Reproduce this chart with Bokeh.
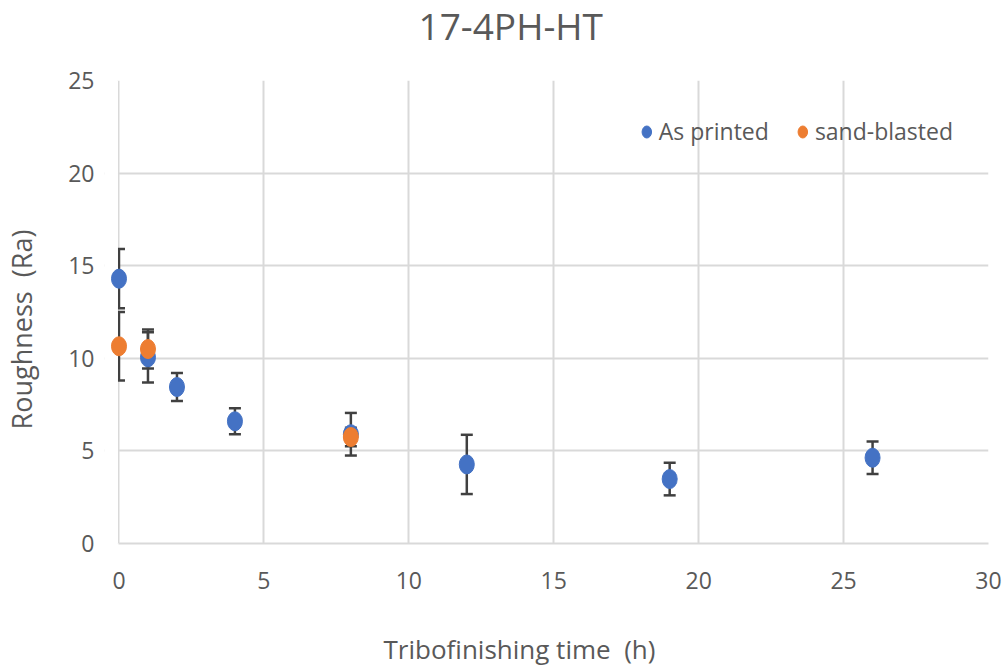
from bokeh.plotting import figure
from bokeh.models import (ColumnDataSource, Whisker, TeeHead, Legend, LegendItem,
                          FixedTicker, Range1d, BoxAnnotation)
from bokeh.embed import file_html
from bokeh.resources import INLINE

# Data
printed_time = [0, 1, 2, 4, 8, 12, 19, 26]
printed_ra = [14.3, 10.05, 8.45, 6.6, 5.9, 4.27, 3.48, 4.63]
printed_err = [1.6, 1.35, 0.75, 0.7, 1.15, 1.6, 0.88, 0.88]

blasted_time = [0, 1, 8]
blasted_ra = [10.65, 10.5, 5.75]
blasted_err = [1.85, 1.05, 0.5]

x_ticks = [0, 5, 10, 15, 20, 25, 30]
y_ticks = [0, 5, 10, 15, 20, 25]

title_text = "17-4PH-HT"
x_title = "Tribofinishing time\u00a0\u00a0(h)"
y_title = "Roughness\u00a0\u00a0(Ra)"

FONT = "Open Sans"
GRAY_TXT = "#595959"
GRID = "#d9d9d9"

FL, FB = 104, 543  # frame left / bottom on the canvas

p = figure(width=1003, height=671, output_backend="svg", toolbar_location=None,
           x_range=Range1d(-0.5, 30), y_range=Range1d(0, 25),
           min_border_left=FL, min_border_right=15, min_border_top=80,
           min_border_bottom=671 - FB)
p.outline_line_color = None
p.background_fill_color = "white"
p.border_fill_color = "white"

# title: an empty second line lifts the text towards the top edge
p.title.text = title_text + "\n"
p.title.align = "left"
p.title.offset = 314
p.title.vertical_align = "bottom"
p.title.standoff = -20
p.title.text_line_height = 0.766
p.title.text_font = FONT
p.title.text_font_size = "37px"
p.title.text_font_style = "normal"
p.title.text_color = GRAY_TXT

for ax in (p.xaxis[0], p.yaxis[0]):
    ax.major_tick_line_color = None
    ax.minor_tick_line_color = None
    ax.major_label_text_font = FONT
    ax.major_label_text_font_size = "23px"
    ax.major_label_text_color = GRAY_TXT
    ax.axis_label_text_font = FONT
    ax.axis_label_text_font_style = "normal"
    ax.axis_label_text_color = GRAY_TXT

p.xaxis.axis_label_text_font_size = "26px"
p.yaxis.axis_label_text_font_size = "27px"

p.yaxis.axis_line_color = None
p.xaxis.axis_line_color = GRID
p.xaxis.axis_line_width = 2
p.xaxis.bounds = (0, 30)

p.xaxis.ticker = FixedTicker(ticks=x_ticks)
p.yaxis.ticker = FixedTicker(ticks=y_ticks)
p.xaxis.major_label_standoff = 22
p.yaxis.major_label_standoff = 4
p.xaxis.axis_label = x_title + "\u00a0" * 8
p.yaxis.axis_label = y_title + "\u00a0" * 5
p.xaxis.axis_label_standoff = 39
p.yaxis.axis_label_standoff = 25

p.xgrid.ticker = FixedTicker(ticks=x_ticks)
p.ygrid.ticker = FixedTicker(ticks=y_ticks)
p.grid.grid_line_color = GRID
p.grid.grid_line_width = 2

src_p = ColumnDataSource(dict(x=printed_time, y=printed_ra,
                              lo=[a - b for a, b in zip(printed_ra, printed_err)],
                              hi=[a + b for a, b in zip(printed_ra, printed_err)]))
src_b = ColumnDataSource(dict(x=blasted_time, y=blasted_ra,
                              lo=[a - b for a, b in zip(blasted_ra, blasted_err)],
                              hi=[a + b for a, b in zip(blasted_ra, blasted_err)]))

ERR = "#404040"
for src in (src_p, src_b):
    w = Whisker(source=src, base="x", lower="lo", upper="hi", dimension="height",
                line_color=ERR, line_width=2.5, level="underlay",
                upper_head=TeeHead(size=12, line_color=ERR, line_width=2.5),
                lower_head=TeeHead(size=12, line_color=ERR, line_width=2.5))
    p.add_layout(w)

# white strip left of x=0 (hides grid stubs; plot area starts at 0)
p.add_layout(BoxAnnotation(right=-0.035, fill_color="white", fill_alpha=1,
                           line_color=None, level="underlay"))

r1 = p.ellipse("x", "y", source=src_p, width=15, height=19,
               width_units="screen", height_units="screen",
               fill_color="#4472c4", line_color="#4472c4")
r2 = p.ellipse("x", "y", source=src_b, width=15, height=19,
               width_units="screen", height_units="screen",
               fill_color="#ed7d31", line_color="#ed7d31")

legend = Legend(items=[LegendItem(label="As printed", renderers=[r1]),
                       LegendItem(label="sand-blasted", renderers=[r2])],
                orientation="horizontal", location="top_right",
                background_fill_alpha=0, border_line_color=None,
                label_text_font=FONT, label_text_font_size="23px", label_text_color=GRAY_TXT,
                glyph_width=15, glyph_height=17, spacing=26, margin=35, padding=10,
                label_standoff=5)
p.add_layout(legend)

open("out.html", "w").write(file_html(p, INLINE))
